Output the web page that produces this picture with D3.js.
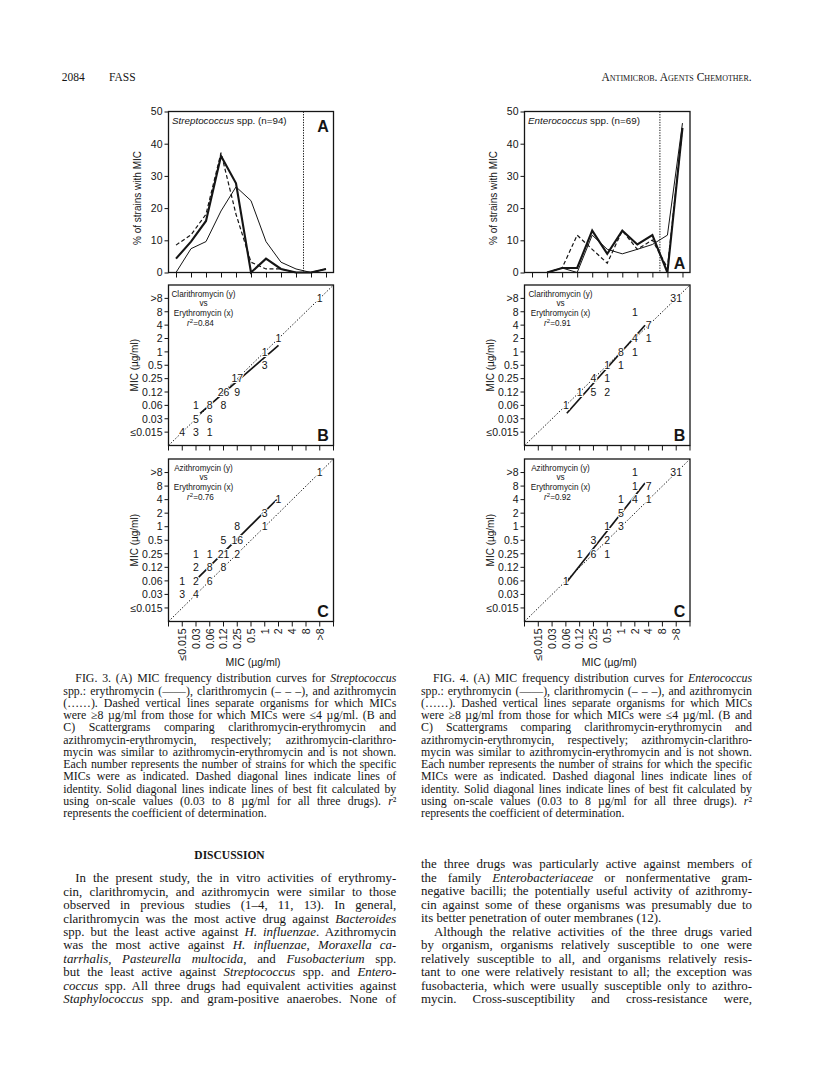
<!DOCTYPE html>
<html><head><meta charset="utf-8">
<script src="https://cdn.jsdelivr.net/npm/d3@7"></script>
<style>body{margin:0;background:#fff;}svg{display:block;}</style>
</head><body>
<svg id="page" width="816" height="1084"></svg>
<script>
// ---------------- DATA ----------------
const micCategories = ["≤0.015","0.03","0.06","0.12","0.25","0.5","1","2","4","8",">8"];
const pctTicks = [0,10,20,30,40,50];

// Panel A: % of strains with MIC
const strepErythro   = [4.3, 9.6, 16.0, 36.2, 27.7, 0, 4.3, 1.1, 0, 0, 1.1];
const strepClarithro = [8.5, 11.7, 18.1, 37.2, 18.1, 3.2, 1.1, 1.1, 0, 0, 1.1];
const strepAzithro   = [0, 7.4, 9.6, 19.1, 26.6, 22.3, 9.6, 3.2, 1.1, 0, 1.1];
const enteroErythro   = [null, 0, 1.4, 1.4, 13.0, 5.8, 13.0, 8.7, 11.6, 0, 44.9];
const enteroClarithro = [null, 0, 1.4, 11.6, 7.2, 2.9, 13.0, 7.2, 10.1, 1.4, 44.9];
const enteroAzithro   = [null, 0, 1.4, 0, 11.6, 7.2, 5.8, 7.2, 8.7, 11.6, 46.4];

// Panels B/C: [x MIC, y MIC, number of strains]
const strepClarVsEry = [
  ["≤0.015","≤0.015",4],["0.03","≤0.015",3],["0.06","≤0.015",1],
  ["0.03","0.03",5],["0.06","0.03",6],
  ["0.03","0.06",1],["0.06","0.06",8],["0.12","0.06",8],
  ["0.12","0.12",26],["0.25","0.12",9],
  ["0.25","0.25",17],["1","0.5",3],["1","1",1],["2","2",1],[">8",">8",1]
];
const strepAziVsEry = [
  ["≤0.015","0.03",3],["0.03","0.03",4],
  ["≤0.015","0.06",1],["0.03","0.06",2],["0.06","0.06",6],
  ["0.03","0.12",2],["0.06","0.12",8],["0.12","0.12",8],
  ["0.03","0.25",1],["0.06","0.25",1],["0.12","0.25",21],["0.25","0.25",2],
  ["0.12","0.5",5],["0.25","0.5",16],
  ["0.25","1",8],["1","1",1],["1","2",3],["2","4",1],[">8",">8",1]
];
const enteroClarVsEry = [
  ["0.06","0.06",1],
  ["0.12","0.12",1],["0.25","0.12",5],["0.5","0.12",2],
  ["0.25","0.25",4],["0.5","0.25",1],
  ["0.5","0.5",1],["1","0.5",1],
  ["1","1",8],["2","1",1],
  ["2","2",4],["4","2",1],
  ["4","4",7],["2","8",1],[">8",">8",31]
];
const enteroAziVsEry = [
  ["0.06","0.06",1],
  ["0.12","0.25",1],["0.25","0.25",6],["0.5","0.25",1],
  ["0.25","0.5",3],["0.5","0.5",2],
  ["0.5","1",1],["1","1",3],
  ["1","2",5],
  ["1","4",1],["2","4",4],["4","4",1],
  ["2","8",1],["4","8",7],
  ["2",">8",1],[">8",">8",31]
];
// lines of best fit in category-index units: [x start, x end, slope, intercept]
const strepClarFit  = [1.3, 7.0, 0.89, 0.25];
const strepAziFit   = [1.18, 6.88, 1.01, 1.06];
const enteroClarFit = [2.07, 7.74, 1.16, -0.99];
const enteroAziFit  = [2.07, 7.74, 1.29, -0.76];

// ---------------- DRAWING ----------------
const SANS = "'Liberation Sans', Arial, Helvetica, sans-serif";
const SERIF = "'Liberation Serif', 'Times New Roman', serif";
const INK = "#151515";
const svg = d3.select("#page");

const panels = [
  {left:168.5, right:333.5, species:"Streptococcus", n:94,
   series:[strepErythro, strepClarithro, strepAzithro], letterATop:true,
   scatB:strepClarVsEry, fitB:strepClarFit, r2B:"0.84",
   scatC:strepAziVsEry, fitC:strepAziFit, r2C:"0.76", lblOff:35},
  {left:524.5, right:690, species:"Enterococcus", n:69,
   series:[enteroErythro, enteroClarithro, enteroAzithro], letterATop:false,
   scatB:enteroClarVsEry, fitB:enteroClarFit, r2B:"0.91",
   scatC:enteroAziVsEry, fitC:enteroAziFit, r2C:"0.92", lblOff:36}
];
const rowA = {top:111.5, bottom:272.5};
const rowB = {top:285, bottom:445.5};
const rowC = {top:459, bottom:621.5};
const seriesStyle = [
  {w:2.1, dash:null}, {w:1.2, dash:"4,2.5"}, {w:1.0, dash:null}
];

function rich(t, str) {
  str.split("*").forEach((seg,i)=>{ if(seg!=="") t.append("tspan").attr("font-style", i%2 ? "italic" : null).text(seg); });
  return t;
}

panels.forEach(p => {
  const g = svg.append("g");
  // ---- Panel A ----
  const xA = d3.scalePoint().domain(micCategories).range([p.left, p.right]).padding(0.5);
  const yA = d3.scaleLinear().domain([0,50]).range([rowA.bottom, rowA.top]);
  const aG = g.append("g");
  const yAx = aG.append("g").attr("transform",`translate(${p.left},0)`)
    .call(d3.axisLeft(yA).tickValues(pctTicks).tickSize(4).tickPadding(2));
  yAx.select(".domain").remove();
  yAx.selectAll("line").attr("stroke",INK).attr("stroke-width",1);
  yAx.selectAll("text").attr("font-family",SANS).attr("font-size",10.5).attr("fill",INK);
  const xAx = aG.append("g").attr("transform",`translate(0,${rowA.bottom})`)
    .call(d3.axisBottom(xA).tickSize(5).tickFormat(""));
  xAx.select(".domain").remove();
  xAx.selectAll("line").attr("stroke",INK).attr("stroke-width",1);

  const cut = xA("4") + xA.step()/2;
  aG.append("line").attr("x1",cut).attr("x2",cut).attr("y1",rowA.top).attr("y2",rowA.bottom)
    .attr("stroke",INK).attr("stroke-width",1).attr("stroke-dasharray","1.3,1.3");

  const line = d3.line().defined(d=>d.v!=null).x(d=>xA(d.c)).y(d=>yA(d.v));
  p.series.forEach((s,si)=>{
    aG.append("path").datum(s.map((v,i)=>({c:micCategories[i], v})))
      .attr("d",line).attr("fill","none").attr("stroke",INK)
      .attr("stroke-width",seriesStyle[si].w).attr("stroke-dasharray",seriesStyle[si].dash)
      .attr("stroke-linejoin","miter");
  });
  aG.append("rect").attr("x",p.left).attr("y",rowA.top).attr("width",p.right-p.left)
    .attr("height",rowA.bottom-rowA.top).attr("fill","none").attr("stroke",INK).attr("stroke-width",1.3);
  rich(aG.append("text").attr("x",p.left+3.5).attr("y",rowA.top+12.5)
    .attr("font-family",SANS).attr("font-size",9.8).attr("fill",INK), `*${p.species}* spp. (n=${p.n})`);
  aG.append("text").attr("x",p.right-10.5).attr("y",p.letterATop ? rowA.top+20.5 : rowA.bottom-3.5)
    .attr("text-anchor","middle").attr("font-family",SANS).attr("font-weight","bold")
    .attr("font-size",16).attr("fill",INK).text("A");
  aG.append("text").attr("transform",`translate(${p.left-28},${(rowA.top+rowA.bottom)/2+6}) rotate(-90)`)
    .attr("text-anchor","middle").attr("font-family",SANS).attr("font-size",10).attr("fill",INK)
    .text("% of strains with MIC");

  // ---- Panels B and C ----
  [[rowB,p.scatB,p.fitB,"Clarithromycin (y)",p.r2B,"B"],[rowC,p.scatC,p.fitC,"Azithromycin (y)",p.r2C,"C"]]
  .forEach(([row, scat, fit, yName, r2, letter]) => {
    const sg = g.append("g");
    const x = d3.scaleLinear().domain([-1,11]).range([p.left,p.right]);
    const y = d3.scaleLinear().domain([-1,11]).range([row.bottom,row.top]);
    const idx = c => micCategories.indexOf(c);
    const yT = sg.append("g");
    yT.selectAll("line").data(micCategories).join("line")
      .attr("x1",p.left-4).attr("x2",p.left).attr("y1",c=>y(idx(c))).attr("y2",c=>y(idx(c)))
      .attr("stroke",INK).attr("stroke-width",1);
    yT.selectAll("text").data(micCategories).join("text")
      .attr("x",p.left-6).attr("y",c=>y(idx(c))).attr("dy","0.36em").attr("text-anchor","end")
      .attr("font-family",SANS).attr("font-size",10.5).attr("fill",INK).text(c=>c);
    sg.append("g").selectAll("line").data(d3.range(-1,12)).join("line")
      .attr("x1",d=>x(d)).attr("x2",d=>x(d)).attr("y1",row.bottom).attr("y2",row.bottom+5)
      .attr("stroke",INK).attr("stroke-width",1);
    sg.append("line").attr("x1",x(-1)).attr("y1",y(-1)).attr("x2",x(11)).attr("y2",y(11))
      .attr("stroke",INK).attr("stroke-width",1).attr("stroke-dasharray","1.4,1.8");
    sg.append("line").attr("x1",x(fit[0])).attr("y1",y(fit[2]*fit[0]+fit[3]))
      .attr("x2",x(fit[1])).attr("y2",y(fit[2]*fit[1]+fit[3]))
      .attr("stroke",INK).attr("stroke-width",1.7);
    sg.append("g").selectAll("text").data(scat).join("text")
      .attr("x",d=>x(idx(d[0]))).attr("y",d=>y(idx(d[1]))).attr("dy","0.36em")
      .attr("text-anchor","middle").attr("font-family",SANS).attr("font-size",10.5).attr("fill",INK)
      .attr("stroke","#fff").attr("stroke-width",2.2).attr("paint-order","stroke")
      .text(d=>d[2]);
    sg.append("rect").attr("x",p.left).attr("y",row.top).attr("width",p.right-p.left)
      .attr("height",row.bottom-row.top).attr("fill","none").attr("stroke",INK).attr("stroke-width",1.3);
    const cx = p.left + p.lblOff;
    const lt = sg.append("g").attr("font-family",SANS).attr("font-size",8.2).attr("fill",INK).attr("text-anchor","middle");
    lt.append("text").attr("x",cx).attr("y",row.top+12).text(yName);
    lt.append("text").attr("x",cx).attr("y",row.top+20.5).text("vs");
    lt.append("text").attr("x",cx).attr("y",row.top+31).text("Erythromycin (x)");
    const rt = lt.append("text").attr("x",cx-3).attr("y",row.top+40.5);
    rt.append("tspan").attr("font-style","italic").text("r");
    rt.append("tspan").attr("dy",-3).attr("font-size",6).text("2");
    rt.append("tspan").attr("dy",3).text("=" + r2);
    sg.append("text").attr("x",p.right-10.5).attr("y",row.bottom-4.5).attr("text-anchor","middle")
      .attr("font-family",SANS).attr("font-weight","bold").attr("font-size",16).attr("fill",INK).text(letter);
    sg.append("text").attr("transform",`translate(${p.left-31},${(row.top+row.bottom)/2}) rotate(-90)`)
      .attr("text-anchor","middle").attr("font-family",SANS).attr("font-size",10).attr("fill",INK)
      .text("MIC (µg/ml)");
    if (letter==="C") {
      sg.append("g").selectAll("text").data(micCategories).join("text")
        .attr("transform",c=>`translate(${x(idx(c))},${row.bottom+7}) rotate(-90)`)
        .attr("dy","0.36em").attr("text-anchor","end")
        .attr("font-family",SANS).attr("font-size",10.5).attr("fill",INK).text(c=>c);
      sg.append("text").attr("x",(p.left+p.right)/2+2).attr("y",row.bottom+44)
        .attr("text-anchor","middle").attr("font-family",SANS).attr("font-size",10.5).attr("fill",INK)
        .text("MIC (µg/ml)");
    }
  });
});

// ---------------- TEXT ----------------
function block(lines, x, y0, lh, width, size, indent) {
  const g = svg.append("g").attr("font-family",SERIF).attr("font-size",size).attr("fill",INK);
  lines.forEach((ln,i)=>{
    let s = ln, just = true, ind = 0;
    if (s.startsWith("»")) { s = s.slice(1); ind = indent; }
    if (s.endsWith("¶")) { s = s.slice(0,-1); just = false; }
    const t = g.append("text").attr("x",x+ind).attr("y",y0+i*lh);
    rich(t, s);
    if (just) {
      const target = width - ind;
      const natural = t.node().getComputedTextLength();
      const spaces = (s.match(/ /g) || []).length;
      if (natural < target && spaces > 0) {
        t.attr("word-spacing", (target - natural) / spaces);
      } else if (natural > target) {
        t.attr("textLength", target).attr("lengthAdjust","spacingAndGlyphs");
      }
    }
  });
}
svg.append("text").attr("x",61.7).attr("y",80.5).attr("font-family",SERIF).attr("font-size",11.5).attr("fill",INK).text("2084");
svg.append("text").attr("x",109).attr("y",80.5).attr("font-family",SERIF).attr("font-size",11.5).attr("fill",INK)
  .attr("font-variant","small-caps").text("FASS");
svg.append("text").attr("x",751.7).attr("y",80.5).attr("text-anchor","end").attr("font-family",SERIF).attr("font-size",11.5)
  .attr("fill",INK).attr("font-variant","small-caps").text("Antimicrob. Agents Chemother.");

function captionLines(fig, sp) {
  return [
    `»FIG. ${fig}. (A) MIC frequency distribution curves for *${sp}*`,
    "spp.: erythromycin (——), clarithromycin (– – –), and azithromycin",
    "(……). Dashed vertical lines separate organisms for which MICs",
    "were ≥8 µg/ml from those for which MICs were ≤4 µg/ml. (B and",
    "C) Scattergrams comparing clarithromycin-erythromycin and",
    "azithromycin-erythromycin, respectively; azithromycin-clarithro-",
    "mycin was similar to azithromycin-erythromycin and is not shown.",
    "Each number represents the number of strains for which the specific",
    "MICs were as indicated. Dashed diagonal lines indicate lines of",
    "identity. Solid diagonal lines indicate lines of best fit calculated by",
    "using on-scale values (0.03 to 8 µg/ml for all three drugs). *r*²",
    "represents the coefficient of determination.¶"
  ];
}
block(captionLines(3,"Streptococcus"), 63.3, 682.3, 12.25, 333, 11.85, 12);
block(captionLines(4,"Enterococcus"), 421, 682.3, 12.25, 331, 11.85, 12);

svg.append("text").attr("x",229.5).attr("y",859).attr("text-anchor","middle").attr("font-family",SERIF)
  .attr("font-weight","bold").attr("font-size",11.5).attr("fill",INK).text("DISCUSSION");

block([
  "»In the present study, the in vitro activities of erythromy-",
  "cin, clarithromycin, and azithromycin were similar to those",
  "observed in previous studies (1–4, 11, 13). In general,",
  "clarithromycin was the most active drug against *Bacteroides*",
  "spp. but the least active against *H. influenzae*. Azithromycin",
  "was the most active against *H. influenzae*, *Moraxella ca-*",
  "*tarrhalis*, *Pasteurella multocida*, and *Fusobacterium* spp.",
  "but the least active against *Streptococcus* spp. and *Entero-*",
  "*coccus* spp. All three drugs had equivalent activities against",
  "*Staphylococcus* spp. and gram-positive anaerobes. None of"
], 63.3, 882.3, 13.42, 333, 12.9, 12);

block([
  "the three drugs was particularly active against members of",
  "the family *Enterobacteriaceae* or nonfermentative gram-",
  "negative bacilli; the potentially useful activity of azithromy-",
  "cin against some of these organisms was presumably due to",
  "its better penetration of outer membranes (12).¶",
  "»Although the relative activities of the three drugs varied",
  "by organism, organisms relatively susceptible to one were",
  "relatively susceptible to all, and organisms relatively resis-",
  "tant to one were relatively resistant to all; the exception was",
  "fusobacteria, which were usually susceptible only to azithro-",
  "mycin. Cross-susceptibility and cross-resistance were,"
], 421, 868, 13.5, 331, 12.9, 13);
</script>
</body></html>
